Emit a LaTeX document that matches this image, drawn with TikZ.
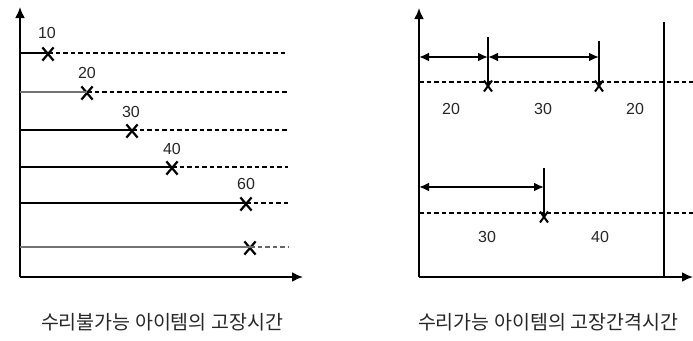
\documentclass[tikz,border=0pt]{standalone}
\usepackage{fontspec}
\setmainfont{Liberation Sans}
\newfontfamily\krfont{Noto Sans CJK KR}
\usetikzlibrary{arrows.meta, shapes.misc}
\tikzset{
  axis/.style={line width=2pt, -{Latex[length=11pt, width=10pt]}},
  life/.style={line width=1.8pt},
  rest/.style={line width=1.6pt, dash pattern=on 4.5pt off 3pt},
  fail/.style={cross out, draw, line width=2.2pt, minimum width=9pt, minimum height=11pt, inner sep=0pt},
  failsm/.style={cross out, draw, line width=2pt, minimum width=6pt, minimum height=9pt, inner sep=0pt},
  span/.style={line width=2pt, {Latex[length=10pt, width=9pt]}-{Latex[length=10pt, width=9pt]}},
  num/.style={font=\fontsize{16}{16}\selectfont, text=black!85},
  captext/.style={font=\krfont\fontsize{19.5}{20}\selectfont, text=black!85}
}
\begin{document}
\begin{tikzpicture}[x=1pt, y=-1pt]
  \useasboundingbox (0,0) rectangle (693,340);
  \coordinate (o1) at (20,277);
  \coordinate (top1) at (20,7);
  \coordinate (end1) at (303,277);
  \draw[axis] (o1) -- (top1);
  \draw[axis] (o1) -- (end1);
  \node[fail] (f1) at (48,54) {};
  \node[fail] (f2) at (87,93) {};
  \node[fail] (f3) at (132,131) {};
  \node[fail] (f4) at (172,168) {};
  \node[fail] (f5) at (246,204) {};
  \node[fail] (f6) at (250,248) {};
  \coordinate (s1) at (20,53);  \coordinate (e1) at (288,53);
  \coordinate (s2) at (20,92);  \coordinate (e2) at (288,92);
  \coordinate (s3) at (20,130); \coordinate (e3) at (288,130);
  \coordinate (s4) at (20,167); \coordinate (e4) at (288,167);
  \coordinate (s5) at (20,203); \coordinate (e5) at (288,203);
  \coordinate (s6) at (20,247); \coordinate (e6) at (288,247);
  \draw[life] (s1) -- (s1 -| f1);
  \draw[life, black!55] (s2) -- (s2 -| f2);
  \draw[life] (s3) -- (s3 -| f3);
  \draw[life] (s4) -- (s4 -| f4);
  \draw[life] (s5) -- (s5 -| f5);
  \draw[life, black!55] (s6) -- (s6 -| f6);
  \draw[rest] (s1 -| f1) -- (e1);
  \draw[rest] (s2 -| f2) -- (e2);
  \draw[rest] (s3 -| f3) -- (e3);
  \draw[rest] (s4 -| f4) -- (e4);
  \draw[rest] (s5 -| f5) -- (e5);
  \draw[rest, black!60] (s6 -| f6) -- (e6);
  \node[num] (n1) at (47,33) {10};
  \node[num] (n2) at (87,73) {20};
  \node[num] (n3) at (131,112) {30};
  \node[num] (n4) at (172,149) {40};
  \node[num] (n5) at (246,184) {60};

  \coordinate (o2) at (419,277);
  \coordinate (top2) at (419,8);
  \coordinate (end2) at (693,277);
  \draw[axis] (o2) -- (top2);
  \draw[axis] (o2) -- (end2);
  \coordinate (v1) at (664,22);
  \coordinate (v2) at (664,277);
  \draw[line width=1.6pt] (v1) -- (v2);
  \coordinate (r1) at (419,82);  \coordinate (q1) at (693,82);
  \coordinate (r2) at (419,213); \coordinate (q2) at (693,213);
  \draw[rest] (r1) -- (q1);
  \draw[rest] (r2) -- (q2);
  \node[failsm] (g1) at (488,86) {};
  \node[failsm] (g2) at (599,86) {};
  \node[failsm] (g3) at (544,217) {};
  \coordinate (t1) at (488,37);
  \coordinate (t2) at (599,41);
  \coordinate (t3) at (544,168);
  \draw[line width=1.8pt] (t1) -- (g1.center);
  \draw[line width=1.8pt] (t2) -- (g2.center);
  \draw[line width=1.8pt] (t3) -- (g3.center);
  \coordinate (a0) at (419,57);
  \coordinate (a1) at (488,57);
  \coordinate (a2) at (599,57);
  \coordinate (b0) at (419,187);
  \coordinate (b1) at (544,187);
  \draw[span] (a0) -- (a1);
  \draw[span] (a1) -- (a2);
  \draw[span] (b0) -- (b1);
  \node[num] (m1) at (451,109) {20};
  \node[num] (m2) at (543,109) {30};
  \node[num] (m3) at (635,109) {20};
  \node[num] (m4) at (487,237) {30};
  \node[num] (m5) at (600,237) {40};

  \node[captext] (c1) at (162,322) {수리불가능 아이템의 고장시간};
  \node[captext] (c2) at (548,322) {수리가능 아이템의 고장간격시간};
\end{tikzpicture}
\end{document}
